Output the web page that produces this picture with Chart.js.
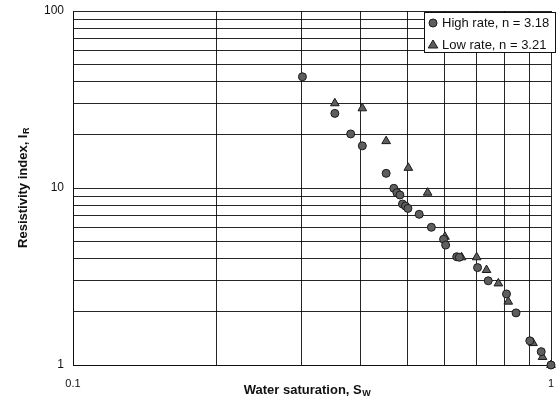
<!DOCTYPE html>
<html>
<head>
<meta charset="utf-8">
<script src="https://cdn.jsdelivr.net/npm/chart.js@4.4.1/dist/chart.umd.min.js"></script>
<style>
  html, body { margin: 0; padding: 0; background: #fff; }
  #wrap { width: 557px; height: 403px; }
</style>
</head>
<body>
<div id="wrap"><canvas id="irChart" width="557" height="403"></canvas></div>
<script>
// resistivity index vs water saturation
const highRateSw = [0.302, 0.353, 0.381, 0.403, 0.452, 0.469, 0.476, 0.483, 0.489, 0.496, 0.502, 0.530,
                    0.562, 0.596, 0.602, 0.635, 0.643, 0.702, 0.739, 0.807, 0.845, 0.903, 0.954, 1.0];
const highRateIR = [42.5, 26.4, 20.2, 17.3, 12.1, 9.96, 9.41, 9.13, 8.12, 7.91, 7.67, 7.10,
                    6.0, 5.13, 4.76, 4.09, 4.06, 3.55, 2.99, 2.52, 1.97, 1.37, 1.19, 1.0];
const lowRateSw = [0.353, 0.403, 0.452, 0.503, 0.552, 0.600, 0.650, 0.699, 0.733, 0.776, 0.814, 0.917, 0.960, 1.0];
const lowRateIR = [30.1, 28.2, 18.4, 13.0, 9.41, 5.3, 4.06, 4.06, 3.44, 2.89, 2.28, 1.33, 1.11, 1.0];

const seriesLabels = ['High rate, n = 3.18', 'Low rate, n = 3.21'];
// gridlines (log minor ticks) and the few that carry a label
const xGridTicks = [0.1, 0.2, 0.3, 0.4, 0.5, 0.6, 0.7, 0.8, 0.9, 1];
const yGridTicks = [1, 2, 3, 4, 5, 6, 7, 8, 9, 10, 20, 30, 40, 50, 60, 70, 80, 90, 100];
const xTickLabels = ['0.1', '1'];
const yTickLabels = ['1', '10', '100'];

const FONT = '"Liberation Sans", Arial, sans-serif';
const markerFill = '#5e5e5e';
const markerEdge = '#1a1a1a';
const gridColor = 'rgba(0, 0, 0, 0.85)';

function toPoints(xs, ys) {
    return xs.map((x, i) => ({ x: x, y: ys[i] }));
}

// axis titles with subscripts (Chart.js titles can't do subscripts)
const axisTitlePlugin = {
    id: 'axisTitles',
    afterDraw(chart) {
        const ctx = chart.ctx;
        const area = chart.chartArea;
        ctx.save();
        ctx.fillStyle = '#111';
        ctx.textBaseline = 'alphabetic';

        // x title
        const xMain = 'Water saturation, S';
        const xSub = 'W';
        ctx.font = 'bold 13px ' + FONT;
        const wMain = ctx.measureText(xMain).width;
        ctx.font = 'bold 9px ' + FONT;
        const wSub = ctx.measureText(xSub).width;
        let x0 = (area.left + area.right) / 2 - 5 - (wMain + wSub) / 2;
        ctx.font = 'bold 13px ' + FONT;
        ctx.textAlign = 'left';
        ctx.fillText(xMain, x0, 394);
        ctx.font = 'bold 9px ' + FONT;
        ctx.fillText(xSub, x0 + wMain + 0.5, 396);

        // y title
        const yMain = 'Resistivity index, I';
        const ySub = 'R';
        ctx.translate(27, (area.top + area.bottom) / 2);
        ctx.rotate(-Math.PI / 2);
        ctx.font = 'bold 13px ' + FONT;
        const hMain = ctx.measureText(yMain).width;
        ctx.font = 'bold 9px ' + FONT;
        const hSub = ctx.measureText(ySub).width;
        const y0 = -(hMain + hSub) / 2;
        ctx.font = 'bold 13px ' + FONT;
        ctx.fillText(yMain, y0, 0);
        ctx.font = 'bold 9px ' + FONT;
        ctx.fillText(ySub, y0 + hMain + 0.5, 2);
        ctx.restore();
    }
};

// boxed legend sitting in the top right corner of the plot
const boxLegendPlugin = {
    id: 'boxLegend',
    afterDatasetsDraw(chart) {
        const ctx = chart.ctx;
        const left = 424, top = 12, right = 556, bottom = 53;
        ctx.save();
        ctx.fillStyle = '#fff';
        ctx.fillRect(left, top, right - left, bottom - top);
        ctx.strokeStyle = '#111';
        ctx.lineWidth = 1;
        ctx.strokeRect(left + 0.5, top + 0.5, right - left - 1, bottom - top - 1);

        const rows = [23, 45];
        chart.data.datasets.forEach((ds, i) => {
            const cy = rows[i];
            const cx = 433;
            ctx.fillStyle = ds.backgroundColor;
            ctx.strokeStyle = ds.borderColor;
            ctx.lineWidth = 1;
            ctx.beginPath();
            if (ds.pointStyle === 'triangle') {
                const r = ds.pointRadius;
                ctx.moveTo(cx, cy - r);
                ctx.lineTo(cx + r * 0.95, cy + r * 0.6);
                ctx.lineTo(cx - r * 0.95, cy + r * 0.6);
                ctx.closePath();
            } else {
                ctx.arc(cx, cy, ds.pointRadius, 0, Math.PI * 2);
            }
            ctx.fill();
            ctx.stroke();
            ctx.fillStyle = '#111';
            ctx.font = '13px ' + FONT;
            ctx.textAlign = 'left';
            ctx.textBaseline = 'middle';
            ctx.fillText(ds.label, 442, cy);
        });
        ctx.restore();
    }
};

const canvas = document.getElementById('irChart');

new Chart(canvas, {
    type: 'scatter',
    data: {
        datasets: [{
            label: seriesLabels[0],
            data: toPoints(highRateSw, highRateIR),
            pointStyle: 'circle',
            pointRadius: 4,
            backgroundColor: markerFill,
            borderColor: markerEdge,
            borderWidth: 1,
            clip: false
        }, {
            label: seriesLabels[1],
            data: toPoints(lowRateSw, lowRateIR),
            pointStyle: 'triangle',
            pointRadius: 5,
            backgroundColor: markerFill,
            borderColor: markerEdge,
            borderWidth: 1,
            clip: false
        }]
    },
    options: {
        responsive: false,
        animation: false,
        layout: { padding: { top: 11, right: 4, left: 0, bottom: 0 } },
        plugins: {
            legend: { display: false },
            tooltip: { enabled: false }
        },
        scales: {
            x: {
                type: 'logarithmic',
                min: 0.1,
                max: 1,
                border: { display: true, color: '#111', width: 1 },
                grid: { color: gridColor, lineWidth: 1, drawTicks: false },
                ticks: {
                    autoSkip: false,
                    maxRotation: 0,
                    padding: 12,
                    color: '#111',
                    font: { family: FONT, size: 11 },
                    callback: function(value) {
                        const s = String(value);
                        return xTickLabels.includes(s) ? s : '';
                    }
                },
                afterBuildTicks: function(scale) {
                    scale.ticks = xGridTicks.map(v => ({ value: v }));
                },
                afterFit: function(scale) {
                    scale.height = 38;
                    scale.paddingLeft = 0;
                    scale.paddingRight = 0;
                }
            },
            y: {
                type: 'logarithmic',
                min: 1,
                max: 100,
                border: { display: true, color: '#111', width: 1 },
                grid: { color: gridColor, lineWidth: 1, drawTicks: false },
                ticks: {
                    autoSkip: false,
                    padding: 9,
                    color: '#111',
                    font: { family: FONT, size: 12 },
                    callback: function(value) {
                        const s = String(value);
                        return yTickLabels.includes(s) ? s : '';
                    }
                },
                afterBuildTicks: function(scale) {
                    scale.ticks = yGridTicks.map(v => ({ value: v }));
                },
                afterFit: function(scale) {
                    scale.width = 73;
                    scale.paddingTop = 0;
                    scale.paddingBottom = 0;
                }
            }
        }
    },
    plugins: [axisTitlePlugin, boxLegendPlugin]
});
</script>
</body>
</html>
